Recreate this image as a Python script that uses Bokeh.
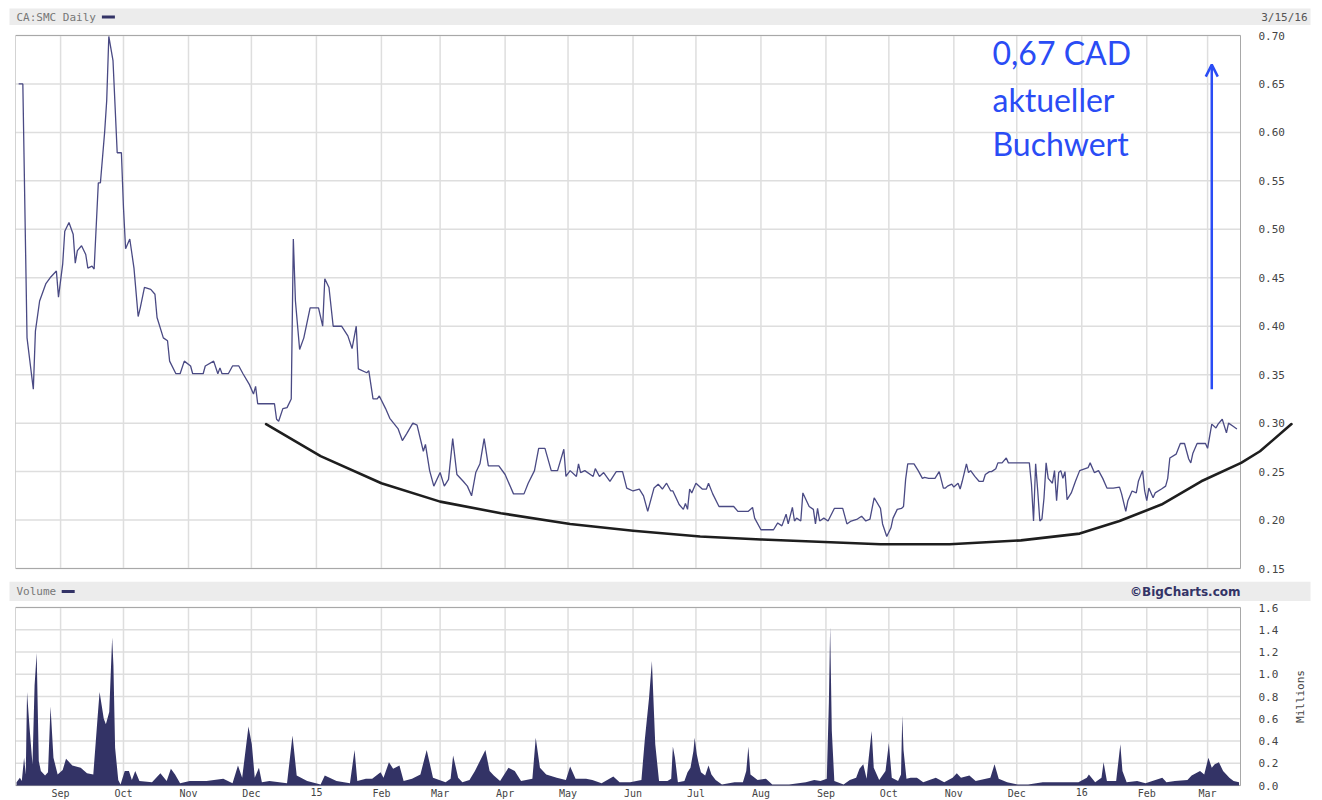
import math
import pandas as pd
from bokeh.plotting import figure
from bokeh.layouts import column
from bokeh.models import ColumnDataSource, Range1d, Label, Arrow, OpenHead
from bokeh.core.properties import value
from bokeh.embed import file_html
from bokeh.resources import INLINE

# ---------------- data (day offsets counted from 2014-09-01) ----------------
BASE = pd.Timestamp("2014-09-01")

price_day = [
    -20, -18, -16, -13, -12, -10, -7, -5, -2, -1,
    1, 2, 4, 6, 7, 8, 10, 12, 13, 15,
    16, 18, 19, 21, 22, 23, 25, 27, 29, 30,
    31, 33, 35, 37, 38, 40, 43, 45, 46, 49,
    51, 52, 55, 57, 59, 62, 63, 68, 69, 73,
    75, 76, 77, 80, 82, 85, 87, 90, 92, 93,
    94, 102, 103, 104, 106, 108, 110, 111, 112, 114,
    116, 119, 123, 125, 126, 128, 130, 134, 137, 139,
    141, 142, 146, 147, 149, 151, 152, 155, 157, 161,
    163, 165, 168, 170, 173, 174, 176, 178, 181, 183,
    185, 187, 189, 192, 194, 196, 198, 200, 202, 204,
    209, 212, 216, 221, 223, 226, 228, 231, 234, 237,
    240, 241, 243, 246, 247, 248, 250, 254, 255, 257,
    259, 262, 265, 268, 270, 273, 276, 278, 280, 283,
    285, 287, 289, 291, 292, 295, 297, 298, 299, 300,
    301, 303, 306, 308, 309, 311, 314, 321, 323, 328,
    330, 331, 334, 340, 342, 344, 346, 347, 349, 350,
    351, 353, 354, 357, 359, 360, 361, 362, 364, 366,
    369, 373, 375, 377, 380, 382, 384, 386, 388, 391,
    392, 394, 396, 397, 399, 401, 402, 403, 404, 407,
    409, 411, 412, 414, 417, 419, 421, 422, 423, 425,
    426, 428, 429, 430, 432, 433, 434, 436, 438, 440,
    441, 443, 444, 446, 447, 449, 451, 452, 462, 463,
    464, 465, 466, 467, 468, 469, 470, 471, 473, 474,
    475, 476, 477, 478, 479, 480, 482, 484, 486, 490,
    491, 493, 495, 497, 499, 502, 505, 506, 508, 509,
    511, 513, 514, 516, 517, 518, 519, 521, 522, 525,
    527, 528, 529, 532, 534, 536, 538, 539, 540, 542,
    546, 547, 549, 551, 552, 554, 556, 557, 559, 561,
]
price_close = [
    0.650, 0.650, 0.388, 0.335, 0.395, 0.426, 0.444, 0.450, 0.457, 0.430,
    0.464, 0.498, 0.507, 0.495, 0.465, 0.478, 0.483, 0.474, 0.460, 0.462,
    0.459, 0.548, 0.548, 0.600, 0.633, 0.699, 0.674, 0.579, 0.579, 0.522,
    0.480, 0.490, 0.460, 0.410, 0.419, 0.440, 0.438, 0.433, 0.409, 0.388,
    0.385, 0.364, 0.351, 0.351, 0.364, 0.359, 0.351, 0.351, 0.359, 0.364,
    0.351, 0.357, 0.351, 0.351, 0.359, 0.359, 0.351, 0.340, 0.330, 0.338,
    0.320, 0.320, 0.304, 0.302, 0.315, 0.316, 0.325, 0.490, 0.426, 0.376,
    0.388, 0.419, 0.419, 0.400, 0.449, 0.440, 0.400, 0.400, 0.390, 0.377,
    0.400, 0.356, 0.352, 0.354, 0.325, 0.325, 0.328, 0.315, 0.305, 0.294,
    0.282, 0.289, 0.300, 0.298, 0.271, 0.278, 0.251, 0.235, 0.249, 0.235,
    0.242, 0.284, 0.247, 0.240, 0.235, 0.225, 0.249, 0.258, 0.284, 0.256,
    0.256, 0.247, 0.227, 0.227, 0.238, 0.251, 0.274, 0.274, 0.251, 0.251,
    0.273, 0.245, 0.251, 0.245, 0.258, 0.249, 0.251, 0.245, 0.253, 0.245,
    0.249, 0.240, 0.250, 0.250, 0.233, 0.230, 0.232, 0.225, 0.209, 0.233,
    0.237, 0.232, 0.238, 0.230, 0.230, 0.216, 0.211, 0.217, 0.211, 0.232,
    0.228, 0.238, 0.232, 0.232, 0.238, 0.227, 0.214, 0.214, 0.209, 0.209,
    0.213, 0.202, 0.190, 0.190, 0.197, 0.194, 0.206, 0.196, 0.213, 0.199,
    0.202, 0.199, 0.228, 0.214, 0.211, 0.196, 0.212, 0.199, 0.202, 0.199,
    0.212, 0.212, 0.196, 0.199, 0.201, 0.204, 0.199, 0.201, 0.223, 0.212,
    0.196, 0.183, 0.192, 0.202, 0.211, 0.212, 0.214, 0.242, 0.258, 0.258,
    0.251, 0.243, 0.244, 0.243, 0.243, 0.250, 0.233, 0.233, 0.235, 0.237,
    0.234, 0.238, 0.232, 0.240, 0.258, 0.249, 0.251, 0.245, 0.240, 0.240,
    0.247, 0.250, 0.250, 0.253, 0.259, 0.259, 0.264, 0.259, 0.259, 0.237,
    0.199, 0.258, 0.230, 0.199, 0.201, 0.223, 0.259, 0.243, 0.238, 0.251,
    0.220, 0.249, 0.251, 0.243, 0.250, 0.221, 0.228, 0.240, 0.251, 0.254,
    0.259, 0.249, 0.251, 0.243, 0.233, 0.233, 0.234, 0.227, 0.209, 0.220,
    0.230, 0.228, 0.240, 0.251, 0.230, 0.220, 0.233, 0.223, 0.228, 0.232,
    0.235, 0.243, 0.264, 0.268, 0.279, 0.279, 0.263, 0.259, 0.269, 0.279,
    0.279, 0.274, 0.299, 0.295, 0.299, 0.304, 0.290, 0.300, 0.297, 0.294,
]

vol_day = [
    -21, -19.4, -18.5, -17.4, -16.6, -16, -14.8, -13.4, -12.4, -11.4,
    -10.4, -9.4, -7.4, -6, -4.8, -3.4, -1.4, 1, 2.6, 5.6,
    9.6, 12.6, 15.6, 16.6, 17.6, 18.6, 20.6, 21.6, 23.2, 24.6,
    25.2, 26, 27.5, 28.6, 30.6, 32.6, 34, 35.6, 37.6, 43.6,
    47.6, 50.6, 52.6, 54.6, 57, 61.6, 64.6, 69.6, 77.6, 82,
    84.6, 86.6, 89.6, 91.2, 92.6, 94.6, 96, 99.6, 108, 110.6,
    112.6, 117.6, 124, 126, 131.6, 138, 140.2, 141.5, 145.6, 148.6,
    152.6, 154, 156.6, 158.6, 161.6, 163.6, 167.6, 171.6, 174.6, 177.6,
    180.6, 183.6, 186, 187.2, 189.6, 191.6, 195, 197.6, 202.6, 204.6,
    206.6, 209.6, 213.6, 216.6, 219.6, 225, 226.6, 228.6, 231.6, 236.6,
    241, 243, 245.6, 250.6, 253.6, 258, 263.6, 266.6, 271.6, 277,
    278.6, 280.6, 282, 283.6, 285.4, 289.4, 291.2, 292, 293, 294.4,
    297.5, 299, 300.4, 301.8, 302.4, 303.4, 304.4, 305.4, 307.4, 309,
    310.4, 312.4, 315.4, 321.4, 325.4, 327, 328, 329, 332.4, 336.4,
    339.4, 347.4, 355.4, 359.4, 362.4, 365.4, 366.4, 367, 367.8, 369,
    373.4, 376.4, 379.4, 381, 382.8, 384.4, 385.4, 386.8, 387.8, 390.4,
    393.4, 395, 396.4, 399.4, 400.8, 401.4, 402, 403.4, 405.4, 408.4,
    411.4, 417.4, 421.4, 425.4, 427.4, 429.4, 433.4, 436.4, 443.4, 445.4,
    447.4, 451.4, 456.4, 461.4, 468.4, 474.4, 480.4, 485.4, 489.4, 490.4,
    493.4, 496.4, 497.4, 499, 503.4, 505.4, 506.4, 508.4, 513.4, 517.4,
    525.4, 527.4, 531.4, 537.4, 539.4, 543.4, 545.4, 547.4, 549, 550.4,
    552.4, 554.4, 557.4, 559.4, 562,
]
vol_millions = [
    0.03, 0.07, 0.04, 0.25, 0.10, 0.84, 0.52, 0.19, 0.90, 1.19,
    0.22, 0.13, 0.09, 0.12, 0.71, 0.25, 0.10, 0.14, 0.24, 0.18,
    0.16, 0.11, 0.10, 0.35, 0.60, 0.84, 0.60, 0.55, 0.66, 1.33,
    1.08, 0.34, 0.05, 0.01, 0.13, 0.13, 0.05, 0.13, 0.04, 0.03,
    0.11, 0.04, 0.15, 0.10, 0.02, 0.04, 0.04, 0.04, 0.06, 0.02,
    0.18, 0.07, 0.53, 0.37, 0.07, 0.16, 0.03, 0.04, 0.02, 0.45,
    0.09, 0.04, 0.01, 0.09, 0.04, 0.02, 0.32, 0.04, 0.06, 0.06,
    0.12, 0.07, 0.21, 0.15, 0.18, 0.04, 0.06, 0.10, 0.32, 0.07,
    0.05, 0.03, 0.06, 0.27, 0.07, 0.03, 0.05, 0.13, 0.32, 0.13,
    0.09, 0.04, 0.16, 0.13, 0.04, 0.06, 0.43, 0.16, 0.10, 0.07,
    0.05, 0.17, 0.06, 0.06, 0.05, 0.02, 0.08, 0.03, 0.03, 0.05,
    0.41, 0.78, 1.12, 0.37, 0.04, 0.04, 0.06, 0.35, 0.25, 0.03,
    0.04, 0.12, 0.16, 0.31, 0.43, 0.28, 0.19, 0.12, 0.09, 0.18,
    0.10, 0.05, 0.01, 0.03, 0.03, 0.13, 0.35, 0.10, 0.05, 0.06,
    0.01, 0.01, 0.03, 0.05, 0.04, 0.06, 0.75, 1.43, 0.49, 0.04,
    0.01, 0.05, 0.07, 0.15, 0.19, 0.06, 0.25, 0.49, 0.16, 0.05,
    0.13, 0.38, 0.07, 0.04, 0.10, 0.63, 0.32, 0.06, 0.07, 0.07,
    0.03, 0.07, 0.03, 0.07, 0.11, 0.07, 0.09, 0.04, 0.07, 0.19,
    0.06, 0.03, 0.01, 0.01, 0.03, 0.03, 0.03, 0.03, 0.07, 0.10,
    0.03, 0.07, 0.21, 0.04, 0.04, 0.37, 0.13, 0.03, 0.04, 0.02,
    0.07, 0.03, 0.04, 0.05, 0.09, 0.13, 0.10, 0.25, 0.16, 0.19,
    0.21, 0.13, 0.07, 0.04, 0.03,
]

month_starts = ["2014-09-01", "2014-10-01", "2014-11-01", "2014-12-01", "2015-01-01",
                "2015-02-01", "2015-03-01", "2015-04-01", "2015-05-01", "2015-06-01",
                "2015-07-01", "2015-08-01", "2015-09-01", "2015-10-01", "2015-11-01",
                "2015-12-01", "2016-01-01", "2016-02-01", "2016-03-01"]
month_labels = ["Sep", "Oct", "Nov", "Dec", "15", "Feb", "Mar", "Apr", "May", "Jun",
                "Jul", "Aug", "Sep", "Oct", "Nov", "Dec", "16", "Feb", "Mar"]
price_ticks = [0.15, 0.20, 0.25, 0.30, 0.35, 0.40, 0.45, 0.50, 0.55, 0.60, 0.65, 0.70]
vol_ticks = [0.0, 0.2, 0.4, 0.6, 0.8, 1.0, 1.2, 1.4, 1.6]

# hand-drawn "rounding bottom" curve (annotation): day offset, price
curve_day = [98, 124, 153, 181, 210, 243, 273, 305, 334, 391, 424, 458, 486, 505, 525, 544, 563, 572, 587]
curve_price = [0.299, 0.266, 0.238, 0.219, 0.207, 0.196, 0.189, 0.183, 0.180, 0.175, 0.175, 0.179,
               0.186, 0.199, 0.216, 0.240, 0.259, 0.271, 0.299]
book_value = 0.67
arrow_from = 0.335
arrow_day = 549
note_lines = ["0,67 CAD", "aktueller", "Buchwert"]

# ---------------- geometry (page has no margin: figure pixels = picture pixels) ----------------
W = 1318
LEFT = 15                      # data area starts at x=15
DAY0, DAY1 = -21.5, 562.7      # first / last day of the plotted data area (x=15 .. x=1240)
PX_PER_DAY = 1225 / (DAY1 - DAY0)
DAY_FRAME_END = DAY0 + (W - LEFT) / PX_PER_DAY   # frame reaches the figure's right edge
DAY_LABEL = DAY0 + (1258 - LEFT) / PX_PER_DAY    # tick label column right of the data area
DAY_MILLIONS = DAY0 + (1300 - LEFT) / PX_PER_DAY
DAY_NOTE = DAY0 + (992 - LEFT) / PX_PER_DAY


def ms(day):
    return (BASE + pd.Timedelta(days=day)).value / 1e6


month_ms = [pd.Timestamp(m).value / 1e6 for m in month_starts]
x_lo, x_hi = ms(DAY0), ms(DAY1)
xr = Range1d(ms(DAY0), ms(DAY_FRAME_END))

NAVY = "#333366"
GRID = "#dedede"
BORDER = "#a8a8a8"
BLUE = "#2a4cf5"
BAR = "#ececec"
MONO = "DejaVu Sans Mono"


def header(height, bar_top, left_text, right_text=None, right_bold=False):
    """Grey title strip; figure pixel coords, y measured upward from the figure bottom."""
    h = figure(width=W, height=height, x_range=(0, W), y_range=(0, height),
               toolbar_location=None, output_backend="svg", frame_align=False,
               x_axis_location=None, y_axis_location=None, min_border=0)
    h.grid.visible = False
    h.outline_line_color = None
    h.background_fill_color = "white"
    h.border_fill_color = "white"
    h.quad(left=[9], right=[1310], bottom=[0], top=[bar_top], fill_color=BAR, line_color=None)
    mid = bar_top / 2
    h.add_layout(Label(x=16, y=mid, text=left_text, text_baseline="middle",
                       text_font=MONO, text_font_size="11px", text_color="#777777"))
    tw = len(left_text) * 6.7
    h.segment(x0=[16 + tw + 5], y0=[mid], x1=[16 + tw + 18], y1=[mid],
              line_color=NAVY, line_width=3)
    if right_text:
        if right_bold:
            h.add_layout(Label(x=1240, y=mid, text=right_text, text_align="right",
                               text_baseline="middle", text_font="DejaVu Sans",
                               text_font_style="bold", text_font_size="12px",
                               text_color=NAVY))
        else:
            h.add_layout(Label(x=1307, y=mid, text=right_text, text_align="right",
                               text_baseline="middle", text_font=MONO,
                               text_font_size="11px", text_color="#555555"))
    return h


def panel(height, y_lo, y_hi, top_val, bottom_val, ticks):
    f = figure(width=W, height=height, x_range=xr, y_range=Range1d(y_lo, y_hi),
               toolbar_location=None, output_backend="svg", frame_align=False,
               x_axis_location=None, y_axis_location=None,
               min_border_left=LEFT, min_border_right=0, min_border_top=0, min_border_bottom=0)
    f.grid.visible = False
    f.outline_line_color = None
    f.border_fill_color = "white"
    # grid lines limited to the data area
    f.segment(x0=month_ms, x1=month_ms, y0=bottom_val, y1=top_val,
              line_color=GRID, line_width=1.5)
    f.segment(x0=x_lo, x1=x_hi, y0=ticks, y1=ticks, line_color=GRID, line_width=1.5)
    f.quad(left=x_lo, right=x_hi, bottom=bottom_val, top=top_val,
           fill_color=None, line_color=BORDER, line_width=1)
    return f


h1 = header(25, 17, "CA:SMC Daily", "3/15/16")        # y 0..25, bar 8..25
h2 = header(20, 20, "Volume", "\u00a9BigCharts.com", right_bold=True)   # y 581..601

# ---------------- price panel: y 25..581, 0.70 at y=35, 0.15 at y=568 ----------------
P_H, P_TOP, P_BOT = 556, 10, 13
p_unit = (0.70 - 0.15) / (P_H - P_TOP - P_BOT)
p = panel(P_H, 0.15 - P_BOT * p_unit, 0.70 + P_TOP * p_unit, 0.70, 0.15, price_ticks)

psrc = ColumnDataSource(dict(x=[ms(d) for d in price_day], y=price_close))
p.line("x", "y", source=psrc, line_color="#4a4a84", line_width=1.3)

p.text(x=[ms(DAY_LABEL)] * len(price_ticks), y=price_ticks,
       text=[f"{t:.2f}" for t in price_ticks], text_font=value(MONO),
       text_font_size=value("11px"), text_color="#444444", text_baseline="middle")

p.line(x=[ms(d) for d in curve_day], y=curve_price, line_color="#1e1e1e",
       line_width=2.6, line_cap="round", line_join="round")

p.add_layout(Arrow(end=OpenHead(size=12, line_color=BLUE, line_width=2.5),
                   x_start=ms(arrow_day), y_start=arrow_from,
                   x_end=ms(arrow_day), y_end=book_value,
                   line_color=BLUE, line_width=2.5))
# note text: vertical centres at y = 52, 99, 143 (picture pixels)
for txt, ypx in zip(note_lines, [52, 99, 143]):
    p.add_layout(Label(x=ms(DAY_NOTE), y=0.70 - (ypx - 35) * p_unit, text=txt,
                       text_font="Lato", text_font_size="32px", text_color=BLUE,
                       text_baseline="middle"))

# ---------------- volume panel: y 601..799, 1.6 at y=607, 0.0 at y=785 ----------------
V_H, V_TOP, V_BOT = 198, 6, 14
v_unit = 1.6 / (V_H - V_TOP - V_BOT)
v = panel(V_H, -V_BOT * v_unit, 1.6 + V_TOP * v_unit, 1.6, 0.0, vol_ticks)

vsrc = ColumnDataSource(dict(x=[ms(d) for d in vol_day], y=vol_millions))
v.varea(x="x", y1=0, y2="y", source=vsrc, fill_color=NAVY)

v.text(x=[ms(DAY_LABEL)] * len(vol_ticks), y=vol_ticks,
       text=[f"{t:.1f}" for t in vol_ticks], text_font=value(MONO),
       text_font_size=value("11px"), text_color="#444444", text_baseline="middle")
v.text(x=month_ms, y=[-2 * v_unit] * len(month_ms), text=month_labels,
       text_font=value(MONO), text_font_size=value("10px"), text_color="#444444",
       text_align="center", text_baseline="top")
v.text(x=[ms(DAY_MILLIONS)], y=[0.8], text=["Millions"], angle=math.pi / 2,
       text_font=value(MONO), text_font_size=value("11px"), text_color="#444444",
       text_align="center", text_baseline="middle")

layout = column(h1, p, h2, v, spacing=0)
open("out.html", "w").write(file_html(layout, INLINE))
